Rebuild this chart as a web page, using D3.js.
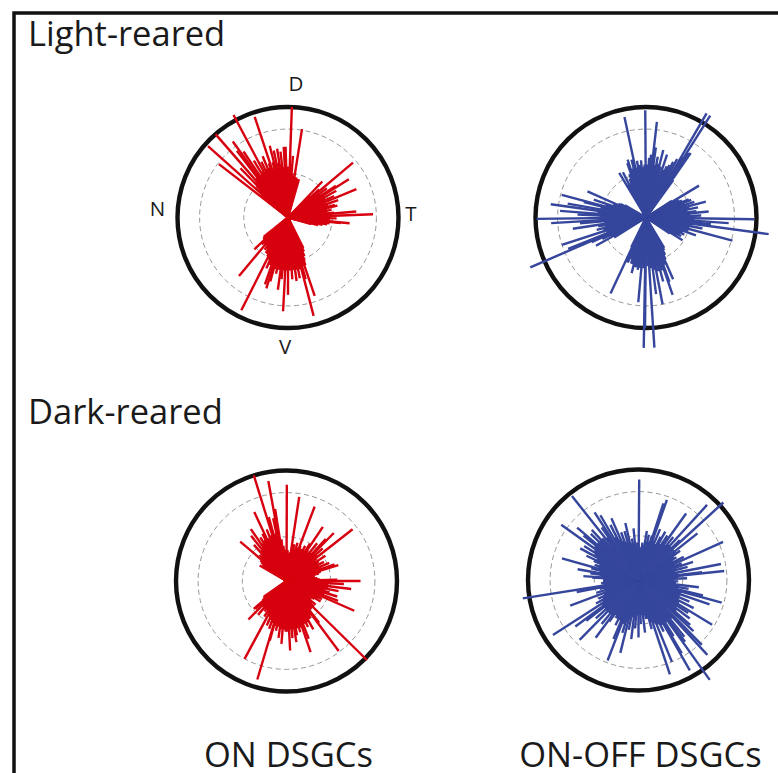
<!DOCTYPE html>
<html>
<head>
<meta charset="utf-8">
<title>Preferred directions of DSGCs</title>
<script src="https://cdn.jsdelivr.net/npm/d3@7"></script>
<style>
  html, body { margin: 0; padding: 0; background: #fff; }
  svg { display: block; }
  text { font-family: "Open Sans", "Noto Sans", sans-serif; fill: #1a1a1a; }
</style>
</head>
<body>
<svg width="778" height="773"></svg>
<script>
// every ray is [direction in degrees clockwise from D, length in % of the outer circle]
const onLight = [
  [-52.3,79],[-51,30],[-50,32],[-48.3,97],[-47,36],[-45,40],[-44,62],[-42.5,42],[-41,100],[-40,44],
  [-38.5,46],[-37.5,76],[-36,85],[-35,48],[-34,72],[-32.5,46],[-31,60],[-29.5,48],[-28,105],[-27,46],
  [-25.5,56],[-24,48],[-22.5,60],[-21,48],[-19.5,52],[-18.3,96],[-17,46],[-15.5,52],[-14.3,67],[-13,50],
  [-12,62],[-10.5,50],[-9,63],[-8,48],[-6.5,60],[-5,46],[-3.5,64],[-2,64],[-0.5,46],[1,46],
  [2,100],[3,46],[4.6,56],[6,40],[7.5,38],[9,81],[10.5,37],[12,37],[14,36],[16,36],
  [43.6,45],[46,28],[48,38],[49.8,77],[51,32],[53,44],[55,36],[56.5,52],[57.9,65],[59,38],
  [61,50],[63,38],[65,46],[67.5,67],[69,36],[71,48],[73,38],[75,44],[76.4,46],[78,36],
  [80,40],[82,36],[84,42],[85,62],[86,38],[87.8,77],[89,38],[91,44],[93,38],[95.3,56],
  [96,48],[98,38],[100,36],[102,32],[104,28],[106,22],
  [153.4,31],[155,34],[157,38],[159,42],[160,46],[161.2,75],[163,46],[164,58],[165.4,92],[167,48],
  [169,56],[171,48],[172.3,58],[174,48],[176,56],[178,48],[180,70],[181.5,48],[183,85],[184.5,48],
  [186,56],[188,66],[190,48],[192,52],[194,48],[195.5,60],[197,67],[199,64],[201,46],[203,50],
  [205,42],[206.7,94],[208,40],[210,38],[212,38],[214,34],[216,36],[218,32],[220,69],[222,32],
  [224,34],[226.5,42],[228,30],[230,29],[231.5,28]
];

const onOffLight = [
  [-31,47],[-29,34],[-27,46],[-25,34],[-23,38],[-21,42],[-19,52],[-17.6,55],[-16,46],[-14,54],
  [-12.1,93],[-11,46],[-9,52],[-7,48],[-5,52],[-3,46],[-1.5,48],[-0.4,97],[1,48],[3,54],
  [4.6,57],[6.5,87],[8,64],[9.5,48],[11,56],[13,50],[14.4,63],[16,48],[18.5,60],[20,46],
  [22,50],[24,52],[26,56],[28,60],[30.2,109],[31,64],[32.2,109],[33.5,70],[34.7,71],[36,42],
  [57,28],[59,56],[61,32],[63,34],[65,36],[67,42],[68.6,44],[70,36],[72,46],[74,38],
  [75.2,56],[77,40],[79,48],[81,38],[83,46],[84.5,57],[86,40],[88,50],[89.5,42],[90.9,98],
  [92,44],[93.9,75],[95,46],[96,59],[97.7,112],[99,42],[101,52],[103,40],[105,81],[107,40],
  [109.8,48],[112,36],[114,38],[116,34],[118,36],[120,32],[122,39],[124,26],
  [149,32],[151,34],[153,38],[155,42],[156.3,61],[158,46],[160,62],[161,74],[163,50],[165,60],
  [167,50],[169.2,80],[171,48],[172.5,70],[174,46],[176.3,118],[178,44],[180.5,100],[181,118],[183,46],
  [185.2,77],[187,46],[189,48],[191,46],[193,46],[194.5,52],[196,44],[198,44],[200,40],[202,44],
  [204,44],[205,76],[206.5,30],
  [238,34],[240.5,52],[242,36],[244,44],[245.5,54],[246.7,114],[248,76],[250,38],[252,80],[254,40],
  [256,46],[258,38],[259.5,44],[261.3,67],[263,38],[265,60],[266.6,86],[268,40],[269.3,99],[271,42],
  [272.5,62],[274.4,78],[276,44],[277.9,87],[279,42],[280,72],[282,42],[284,58],[285,79],[287,38],
  [289,50],[291,32],[294,58],[296,28],[298,26],[300,22]
];

const onDark = [
  [-60,28],[-58,24],[-56,26],[-54,28],[-52,30],[-49.6,55],[-48,30],[-46,34],[-44,32],[-42,44],
  [-40,36],[-38,52],[-36,38],[-34.5,57],[-33,40],[-31,46],[-29,42],[-27,48],[-25,69],[-23,42],
  [-21,50],[-19,44],[-17.2,100],[-15.5,60],[-14,44],[-12,58],[-10.3,92],[-9,66],[-7,38],[-5,32],
  [-3,28],[-1,28],[0.2,87],[2,28],[4,24],[6,26],[8.6,77],[10,28],[12,34],[14,30],
  [16,36],[18,32],[20.7,72],[22,34],[24,32],[26,32],[28,36],[30,32],[32,40],[33.9,59],
  [35,34],[37,32],[39,44],[41,34],[43,52],[44.6,61],[46,36],[48,44],[50,36],[51.9,76],
  [53,34],[55,32],[57,42],[59,34],[61,32],[63,38],[65,32],[67,42],[69,34],[71,46],
  [73,49],[75,32],[77,30],[79,26],[81,24],[83,26],[85,28],[87,30],[88.5,46],[90,67],
  [91.5,38],[93,52],[95,38],[97,59],[99,38],[101,48],[103,36],[105,40],[107,48],[109,36],
  [111,50],[113.7,67],[115,34],[117,36],[119,32],[121,36],[123,30],[125,26],[127,28],[129,34],
  [131,30],[133,34],[134.5,102],[136,32],[138,34],[140,34],[142,48],[143.3,79],[145,38],[147,40],
  [149,40],[151,50],[153,42],[155,46],[157,42],[159,56],[161.3,68],[163,44],[165,48],[167,44],
  [169,50],[170.8,56],[172,44],[174,52],[176,44],[177,63],[179,46],[181,46],[183,44],[184.6,57],
  [186,44],[188,52],[190,42],[192,46],[194,42],[195.7,56],[196.5,93],[198,40],[200,46],[202,38],
  [204,44],[206,36],[208.3,80],[210,34],[212,38],[214,32],[216,34],[218,32],[220,40],[222,32],
  [224.7,49],[226,30],[228,38],[229.6,39],[231,28],[233,26],[235.5,25]
];

const onOffDark = [
  [0.4,91],[2,30],[4,28],[6,34],[8,32],[9.7,45],[11,34],[13,42],[15,36],[17,42],
  [18,73],[19.5,77],[21,38],[23,50],[25,36],[27,44],[29,50],[31,38],[33,48],[35.6,74],
  [37,40],[39,50],[41,42],[42.4,92],[44,42],[46,52],[47.6,104],[49,42],[51.7,68],[53,42],
  [55,46],[57,38],[59,40],[61,36],[63,46],[65.7,84],[67,36],[69,42],[71.6,52],[73,36],
  [75,46],[77,34],[79,76],[81,36],[83,58],[84,78],[86,36],[88,44],[90,32],[92,36],
  [94,34],[96.9,55],[98,36],[100,46],[102,36],[103.5,60],[105.2,78],[107,40],[109,68],[111,40],
  [113,50],[115,40],[117,56],[119,42],[121.3,78],[123.7,54],[125,42],[127,58],[129,44],[131,62],
  [133,68],[135.7,82],[137.4,92],[139,46],[141,66],[143,70],[144.5,111],[146,46],[148,60],[149.4,77],
  [150.4,94],[152,46],[154,52],[156,44],[157.8,80],[159,42],[161.6,90],[163,40],[165,46],[167,36],
  [169,36],[171,32],[172.9,48],[175,32],[177,40],[178.5,30],[180,52],[182,32],[184,44],[187,54],
  [189,34],[191,46],[194,68],[195.5,38],[197,50],[199,42],[201,78],[203,58],[205,40],[207,46],
  [209,40],[211,40],[213,38],[215,46],[216.6,65],[218,40],[220,52],[222,40],[224.5,76],[226,40],
  [228,52],[230,40],[232,60],[233.6,71],[235,40],[237.3,92],[239,38],[241,44],[243,36],[245,40],
  [247,34],[249.4,66],[251,32],[253,40],[255,32],[257,36],[259,57],[261,106],[263,32],[265,34],
  [267,32],[269,32],[271,32],[273,42],[274,50],[276,34],[278,44],[280,56],[282,36],[284,44],
  [285.8,72],[287,38],[289,42],[291,38],[293,44],[295,52],[297,42],[298.5,60],[300,46],[302,58],
  [303.5,48],[305.6,86],[307,50],[309,64],[310.5,73],[312,50],[314,60],[315,50],[317,62],[319,50],
  [321.6,97],[323,48],[325,58],[327,73],[329.5,68],[331,44],[333,56],[335,40],[336.3,61],[338,38],
  [340,46],[342,36],[344,46],[347,53],[349,34],[351,38],[352,32],[354.5,47],[356,30],[358,34]
];

const dashedRings = [40, 80];
const directionLabels = ["D", "T", "V", "N"];
const rearingLabels = ["Light-reared", "Dark-reared"];
const cellLabels = ["ON DSGCs", "ON-OFF DSGCs"];

const red = "#d7000f";
const blue = "#35469c";

const svg = d3.select("svg");

const r = d3.scaleLinear().domain([0, 100]).range([0, 110.5]);
const angle = d3.scaleLinear().domain([0, 360]).range([0, 2 * Math.PI]);

function drawRose(cx, cy, rays, color) {
  const g = svg.append("g").attr("transform", `translate(${cx},${cy})`);

  g.selectAll("circle.ring")
    .data(dashedRings)
    .enter()
    .append("circle")
    .attr("class", "ring")
    .attr("r", d => r(d))
    .attr("fill", "none")
    .attr("stroke", "#8a8a8a")
    .attr("stroke-width", 0.9)
    .attr("stroke-dasharray", "5 3.5");

  g.append("circle")
    .attr("r", r(100))
    .attr("fill", "none")
    .attr("stroke", "#111")
    .attr("stroke-width", 4.4);

  const radial = d3.lineRadial()
    .angle(d => d[0])
    .radius(d => d[1]);

  g.selectAll("path.ray")
    .data(rays)
    .enter()
    .append("path")
    .attr("class", "ray")
    .attr("d", d => radial([[angle(d[0]), 0], [angle(d[0]), r(d[1])]]))
    .attr("stroke", color)
    .attr("stroke-width", 2.4)
    .attr("fill", "none");
}

// black frame, only top and left edges are in the shot
svg.append("path")
  .attr("d", "M14,773V13H778")
  .attr("fill", "none")
  .attr("stroke", "#111")
  .attr("stroke-width", 3.5);

drawRose(288, 217.5, onLight, red);
drawRose(646, 217.5, onOffLight, blue);
drawRose(286.5, 581, onDark, red);
drawRose(638.5, 580, onOffDark, blue);

svg.selectAll("text.rearing")
  .data(rearingLabels)
  .enter()
  .append("text")
  .attr("class", "rearing")
  .attr("x", 28)
  .attr("y", (d, i) => i === 0 ? 46 : 424)
  .attr("font-size", 34.5)
  .text(d => d);

svg.selectAll("text.cell")
  .data(cellLabels)
  .enter()
  .append("text")
  .attr("class", "cell")
  .attr("x", (d, i) => i === 0 ? 288.5 : 640.5)
  .attr("y", 767)
  .attr("text-anchor", "middle")
  .attr("font-size", 34.5)
  .text(d => d);

const labelX = [296, 411, 285, 157.5];
const labelY = [91, 221, 354, 216];
svg.selectAll("text.direction")
  .data(directionLabels)
  .enter()
  .append("text")
  .attr("class", "direction")
  .attr("x", (d, i) => labelX[i])
  .attr("y", (d, i) => labelY[i])
  .attr("text-anchor", "middle")
  .attr("font-size", 20.5)
  .text(d => d);
</script>
</body>
</html>
